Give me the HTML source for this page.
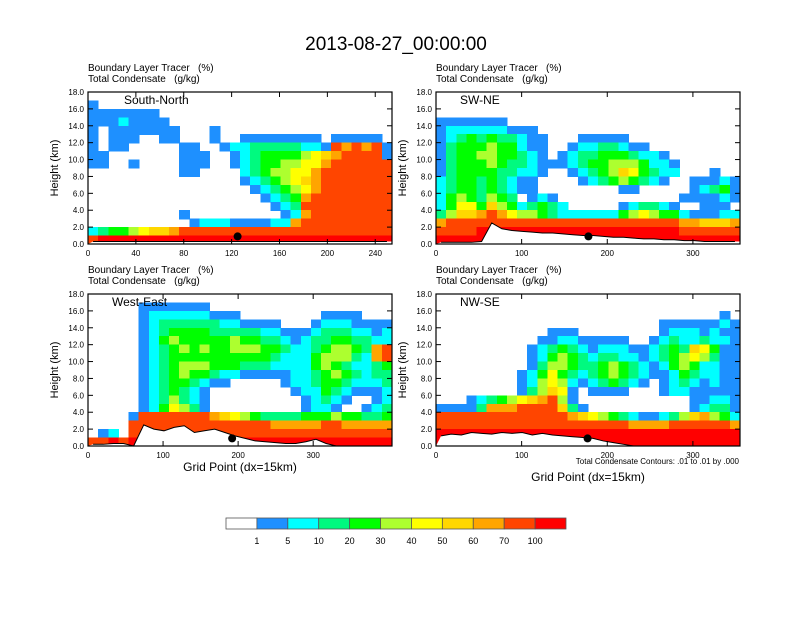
<!DOCTYPE html>
<html><head><meta charset="utf-8"><style>
body{margin:0;background:#fff;font-family:"Liberation Sans",sans-serif}
svg text{font-family:"Liberation Sans",sans-serif;white-space:pre}
</style></head><body>
<svg id="c" width="792" height="612" viewBox="0 0 792 612" xmlns="http://www.w3.org/2000/svg">
<rect width="792" height="612" fill="#fff"/>
<text x="396" y="50" font-size="19" text-anchor="middle">2013-08-27_00:00:00</text>
</svg>
<script>
const levelColors=["#ffffff","#1e90ff","#00ffff","#00fa7f","#00ff00","#adff2f","#ffff00","#ffd700","#ffa500","#ff4500","#ff0000"];
const levelLabels=["1","5","10","20","30","40","50","60","70","100"];
const yTicks=[0,2,4,6,8,10,12,14,16,18];
const panelNames=["South-North","SW-NE","West-East","NW-SE"];
const xMaxes=[254,355,405,355];
const xTicksTL=[0,40,80,120,160,200,240];
const xTicksTR=[0,100,200,300];
const xTicksBL=[0,100,200,300];
const xTicksBR=[0,100,200,300];
const gridTL=["000000000000000000000000000000","100000000000000000000000000000","111111100000000000000000000000","111211110000000000000000000000","101111111000100000000000000000","101110011000100111111110111110","101100000110012233333221989891","110000000111001234444567899991","110010000111001234455668999999","000000000110000234556689999999","000000000000000123456789999999","000000000000000012345689999999","000000000000000001234899999999","000000000000000000123999999999","000000000100000000012899999999","000000000012221111228999999999","234456778999999999999999999999","9aaaaaaaaaaaaaaaaaaaaaaaaaaaaa"];
const gridTR=["000000000000000000000000000000","000000000000000000000000000000","000000000000000000000000000000","111111100000000000000000000000","122222211100000000000000000000","123434332110001111100000000000","134445442110012233211000000000","134455443210123344432210000000","134445433211123445554221000000","134444332210012345764322000100","234434321100001234543210011121","234434321100000000110000012341","245435430121000000000000111121","246647542343200000123321001110","357789865543222222456544211122","899999999999999999999999887778","9999aaaaaaaaaaaaaaaaaaaa999999","aaaaaaaaaaaaaaaaaaaaaaaaaaaaaa"];
const gridBL=["000000000000000000000000000000","000001111111000000000000000000","000001222222111000000001111000","000001233333322111100012221111","000001234444333332211123332212","000001245444445443321233443322","000001234545445554432234554389","000001234444444444322245553289","000001234555444333222245432234","000001234544322111112234543233","000001234432110000012234432223","000001234321000000001224321112","000001235321000000000123210012","000001246531000000000122100123","000019999999876543333444544334","000099999999999999888889988888","012099999999999999999999999999","99a9aaaaaaaaaaaaaaaaaaaaaaaaaa"];
const gridBR=["000000000000000000000000000000","000000000000000000000000000000","000000000000000000000000000010","000000000000000000000011111121","000000000001110000000012221211","000000000011221111100123223221","000000000123432122211234376411","000000000124543233221234565311","000000000135543345432124542211","000000001246432345432112432211","000000001256521234321012321211","000000001357610111100012211111","000123456789510000000000011221","111138889999731000000000012331","999999999999987654321123578542","999999999999999999988889999998","aaaaaaaaaaaaaaaaaaaaaaaaaaaaaa","aaaaaaaaaaaaaaaaaaaaaaaaaaaaaa"];
const terrainTL=[0.3,0.3,0.3,0.3,0.3,0.3,0.3,0.3,0.3,0.3,0.3,0.3,0.3,0.3,0.3,0.3,0.3,0.3,0.3,0.3,0.3,0.3,0.3,0.3,0.3,0.3,0.3,0.3,0.3,0.3];
const terrainTR=[0.2,0.2,0.2,0.2,0.3,2.5,1.8,1.6,1.5,1.4,1.3,1.3,1.2,1.1,1.0,1.0,0.9,0.8,0.8,0.7,0.6,0.6,0.5,0.5,0.4,0.4,0.3,0.3,0.3,0.3];
const terrainBL=[0.2,0.2,0.3,0.3,0,2.5,2,1.8,2.2,2.4,1.6,1.8,2.0,1.6,1.2,0.9,0.6,0.5,0.4,0.3,0.3,0.5,0.8,0.3,0,0,0,0,0,0];
const terrainBR=[1.2,1.4,1.3,1.6,1.5,1.4,1.6,1.5,1.6,1.3,1.5,1.3,1.2,1.1,1.0,0.9,0.6,0.4,0.2,0,0,0,0,0,0,0,0,0,0,0];
const dotX=[125,178,192,177];

const NS="http://www.w3.org/2000/svg";
const svg=document.getElementById('c');
function mk(t,a,p){const e=document.createElementNS(NS,t);for(const k in a)e.setAttribute(k,a[k]);(p||svg).appendChild(e);return e;}
const boxes=[[88,92],[436,92],[88,294],[436,294]];
const W=304,H=152;
const grids=[gridTL,gridTR,gridBL,gridBR];
const terrains=[terrainTL,terrainTR,terrainBL,terrainBR];
const xticks=[xTicksTL,xTicksTR,xTicksBL,xTicksBR];
for(let p=0;p<4;p++){
  const [x0,y0]=boxes[p];const xm=xMaxes[p];
  const sx=v=>x0+v/xm*W, sy=v=>y0+H-v/18*H;
  const g=mk('g',{});
  
  
  const t1=mk('text',{x:x0,y:y0-21,'font-size':10},g);t1.textContent="Boundary Layer Tracer   (%)";
  
  const t2=mk('text',{x:x0,y:y0-10,'font-size':10},g);t2.textContent="Total Condensate   (g/kg)";
  
  const cg=mk('g',{'shape-rendering':'crispEdges'},g);
  
  const grid=grids[p];
  grid.forEach((row,ri)=>{
    const top=18-ri, n=row.length;
    for(let ci=0;ci<n;ci++){
      const lv=parseInt(row[ci],16)||0; if(!lv)continue;
      const xa=sx(ci*xm/n), xb=sx((ci+1)*xm/n);
      const r=mk('rect',{x:xa,y:sy(top),width:xb-xa+0.6,height:sy(top-1)-sy(top)+0.6,fill:levelColors[lv]},cg);
      
    }
  });
  const ter=terrains[p];let d='M'+x0+','+(y0+H);
  ter.forEach((h,i)=>{d+=' L'+sx((i+0.5)*xm/ter.length)+','+sy(h);});
  d+=' L'+(x0+W)+','+sy(ter[ter.length-1])+' L'+(x0+W)+','+(y0+H)+'Z';
  const tp=mk('path',{d:d,fill:'#fff',stroke:'none'},g);
  
  let ld='';ter.forEach((h,i)=>{ld+=(i?' L':'M')+sx((i+0.5)*xm/ter.length)+','+sy(h);});
  const tl=mk('path',{d:ld,fill:'none',stroke:'#000','stroke-width':1},g);
  
  const dot=mk('circle',{cx:sx(dotX[p]),cy:sy(0.9),r:4,fill:'#000'},g);
  
  const fr=mk('rect',{x:x0,y:y0,width:W,height:H,fill:'none',stroke:'#000','stroke-width':1.2},g);
  
  yTicks.forEach(v=>{
    mk('line',{x1:x0,x2:x0+5,y1:sy(v),y2:sy(v),stroke:'#000'},g);
    mk('line',{x1:x0+W,x2:x0+W-5,y1:sy(v),y2:sy(v),stroke:'#000'},g);
    const t=mk('text',{x:x0-4,y:sy(v)+3,'font-size':8,'text-anchor':'end'},g);t.textContent=v.toFixed(1);
    
  });
  xticks[p].forEach(v=>{
    mk('line',{x1:sx(v),x2:sx(v),y1:y0+H,y2:y0+H-5,stroke:'#000'},g);
    mk('line',{x1:sx(v),x2:sx(v),y1:y0,y2:y0+5,stroke:'#000'},g);
    const t=mk('text',{x:sx(v),y:y0+H+12,'font-size':8,'text-anchor':'middle'},g);t.textContent=v;
    
  });
  const yl=mk('text',{x:0,y:0,'font-size':11,'text-anchor':'middle',transform:`translate(${x0-30},${y0+H/2}) rotate(-90)`},g);yl.textContent="Height (km)";
  
  const pn=mk('text',{x:x0+(p==0?36:24),y:y0+12,'font-size':12},g);pn.textContent=panelNames[p];
  
}
let t=mk('text',{x:240,y:471,'font-size':12,'text-anchor':'middle'});t.textContent="Grid Point (dx=15km)";

t=mk('text',{x:588,y:481,'font-size':12,'text-anchor':'middle'});t.textContent="Grid Point (dx=15km)";

t=mk('text',{x:739,y:464,'font-size':8,'text-anchor':'end'});t.textContent="Total Condensate Contours: .01 to .01 by .000";

const lg=mk('g',{});

const bw=340/levelColors.length;
levelColors.forEach((c,i)=>{
  const r=mk('rect',{x:226+i*bw,y:518,width:bw,height:11,fill:c,stroke:'#555','stroke-width':0.8},lg);
  
});
levelLabels.forEach((l,i)=>{
  const tt=mk('text',{x:226+(i+1)*bw,y:544,'font-size':9,'text-anchor':'middle'},lg);tt.textContent=l;
  
});
</script>
</body></html>
